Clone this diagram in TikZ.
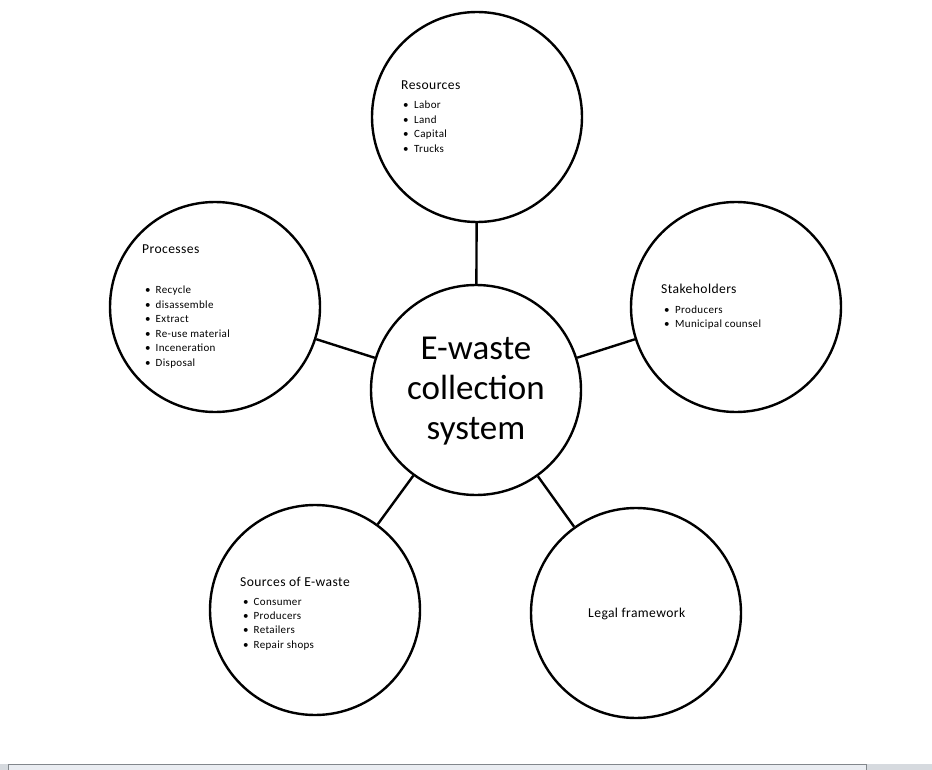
\documentclass[tikz,border=0pt]{standalone}
\usepackage{fontspec}
\setmainfont{Carlito}
\newfontfamily\widefont[LetterSpace=3]{Carlito}
\begin{document}
\begin{tikzpicture}[x=1pt,y=-1pt,
  bub/.style={circle,draw,line width=2.4pt,minimum size=210pt,inner sep=0},
  conn/.style={line width=2.4pt},
  ttl/.style={anchor=base west,inner sep=0,font=\widefont\fontsize{13.6}{15}\selectfont},
  itm/.style={anchor=base west,inner sep=0,font=\widefont\fontsize{11}{13}\selectfont}]
\useasboundingbox (0,0) rectangle (932,770);
% circles
\node[bub] (c) at (476,390) {};
\node[bub] (res) at (477,117) {};
\node[bub] (pro) at (215,307) {};
\node[bub] (sta) at (736,307) {};
\node[bub] (src) at (315,610) {};
\node[bub] (leg) at (636,613) {};
% connectors
\draw[conn] (c) -- (res);
\draw[conn] (c) -- (pro);
\draw[conn] (c) -- (sta);
\draw[conn] (c) -- (src);
\draw[conn] (c) -- (leg);
% center text
\node[align=center,inner sep=0,font=\fontsize{35}{40}\selectfont] (ct) at (476,391) {E-waste\\collection\\system};
% Resources
\node[ttl] (rest) at (401,90) {Resources};
\foreach \t [count=\i] in {Labor,Land,Capital,Trucks}
  \node[itm] (resi\i) at (403,{109+14.4*(\i-1)}) {\makebox[11pt][l]{\textbullet}\t};
% Processes
\node[ttl] (prot) at (142,254) {Processes};
\foreach \t [count=\i] in {Recycle,disassemble,Extract,Re-use material,Inceneration,Disposal}
  \node[itm] (proi\i) at (145,{294+14.4*(\i-1)}) {\makebox[10.5pt][l]{\textbullet}\t};
% Stakeholders
\node[ttl] (stat) at (661,294) {Stakeholders};
\foreach \t [count=\i] in {Producers,Municipal counsel}
  \node[itm] (stai\i) at (664,{313+14.4*(\i-1)}) {\makebox[11pt][l]{\textbullet}\t};
% Sources
\node[ttl] (srct) at (240,586) {Sources of E-waste};
\foreach \t [count=\i] in {Consumer,Producers,Retailers,Repair shops}
  \node[itm] (srci\i) at (243,{605+14.4*(\i-1)}) {\makebox[10.5pt][l]{\textbullet}\t};
% Legal
\node[ttl] (legt) at (588,617) {Legal framework};
% bottom scroll bar
\fill[fill={rgb,255:red,214;green,218;blue,223}] (0,764) rectangle (932,770);
\filldraw[fill={rgb,255:red,234;green,237;blue,242},draw={rgb,255:red,130;green,135;blue,140},line width=0.8pt] (8,764.5) rectangle (866,771);
\end{tikzpicture}
\end{document}
